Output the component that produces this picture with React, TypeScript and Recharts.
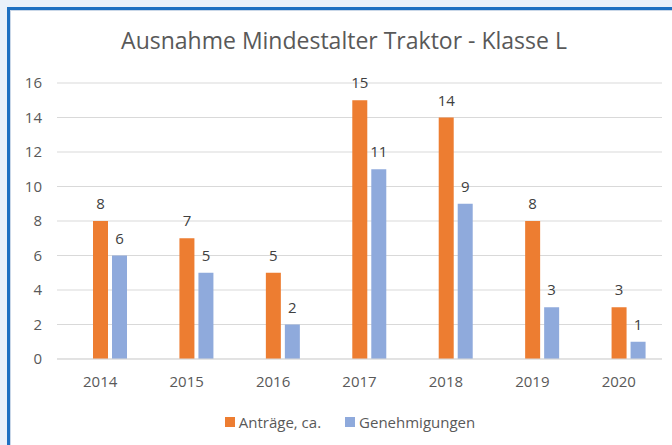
import { Bar, BarChart, CartesianGrid, LabelList, Legend, XAxis, YAxis } from "recharts";

const jahre = ["2014", "2015", "2016", "2017", "2018", "2019", "2020"];
const antraege = [8, 7, 5, 15, 14, 8, 3];
const genehmigungen = [6, 5, 2, 11, 9, 3, 1];
const yTicks = [0, 2, 4, 6, 8, 10, 12, 14, 16];

const data = jahre.map((jahr, i) => ({
  jahr,
  leer: null,
  antraege: antraege[i],
  genehmigungen: genehmigungen[i],
}));

function renderLegend(props: any) {
  const items = ((props.payload || []) as any[]).filter((e) => e.type !== "none" && e.dataKey !== "leer");
  return (
    <div style={{ display: "flex", justifyContent: "center", alignItems: "center", height: 20, paddingLeft: 17, fontSize: 15, color: "#595959" }}>
      {items.map((entry, i) => (
        <span key={entry.value} style={{ display: "inline-flex", alignItems: "center", marginLeft: i ? 24 : 0 }}>
          <span style={{ width: 10, height: 10, background: entry.color, marginRight: 4 }} />
          {entry.value}
        </span>
      ))}
    </div>
  );
}

export default function App() {
  return (
    <div style={{ position: "absolute", left: 0, top: 0, width: 672, height: 445, overflow: "hidden", background: "#EAF1FA", fontFamily: '"Open Sans", sans-serif' }}>
      <div style={{ position: "absolute", left: 7, top: 7, right: 0, bottom: 0, borderTop: "3px solid #1E70C1", borderLeft: "3px solid #1E70C1", background: "#fff" }}>
        <div style={{ position: "absolute", left: 0, top: 0, right: 0, bottom: 0, borderTop: "1px solid #C9D7E8", borderLeft: "1px solid #C9D7E8" }} />
      </div>
      <div style={{ position: "absolute", left: 11, top: 11, width: 661, height: 434 }}>
        <div style={{ position: "absolute", left: 0, top: 19, width: 661, paddingLeft: 5, boxSizing: "border-box", textAlign: "center", fontSize: 23, lineHeight: "20px", color: "#595959" }}>
          Ausnahme Mindestalter Traktor - Klasse L
        </div>
        <BarChart width={661} height={434} data={data} margin={{ top: 72, right: 10, bottom: 26, left: 0 }} barSize={15} barGap={4}>
          <CartesianGrid vertical={false} stroke="#D9D9D9" />
          <XAxis dataKey="jahr" tickLine={false} tickSize={0} tickMargin={17} height={40} axisLine={{ stroke: "#D9D9D9" }} tick={{ fill: "#595959", fontSize: 15 }} />
          <YAxis width={46} domain={[0, 16]} ticks={yTicks} interval={0} axisLine={false} tickLine={false} tickSize={0} tickMargin={15} tick={{ fill: "#595959", fontSize: 15 }} />
          <Legend verticalAlign="bottom" content={renderLegend} wrapperStyle={{ left: 0, width: 661, bottom: 13 }} />
          <Bar dataKey="leer" legendType="none" fill="transparent" isAnimationActive={false} />
          <Bar dataKey="antraege" name="Anträge, ca." fill="#ED7D31" isAnimationActive={false}>
            <LabelList dataKey="antraege" position="top" offset={12} fill="#404040" fontSize={15} />
          </Bar>
          <Bar dataKey="genehmigungen" name="Genehmigungen" fill="#8FAADC" isAnimationActive={false}>
            <LabelList dataKey="genehmigungen" position="top" offset={12} fill="#404040" fontSize={15} />
          </Bar>
        </BarChart>
      </div>
    </div>
  );
}
